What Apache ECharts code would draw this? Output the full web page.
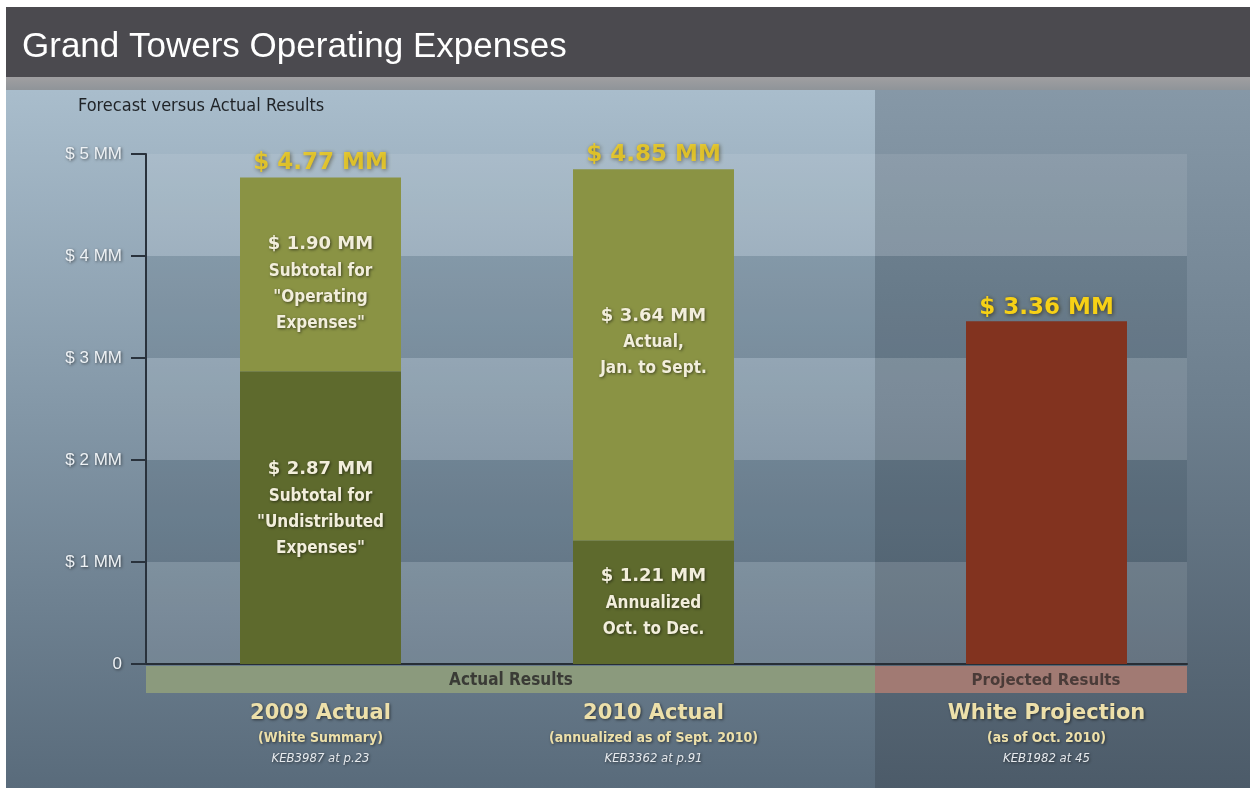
<!DOCTYPE html>
<html lang="en">
<head>
    <meta charset="UTF-8">
    <title>Grand Towers Operating Expenses</title>
    <script src="https://cdn.jsdelivr.net/npm/echarts@6/dist/echarts.min.js"></script>
    <style>
        html, body { margin: 0; padding: 0; background: #fff; }
        #main { width: 1257px; height: 788px; }
    </style>
</head>
<body>
    <div id="main"></div>
    <script>
    // data (millions of dollars)
    var actualCats = ['2009 Actual', '2010 Actual'];
    var actualSubs = ['(White Summary)', '(annualized as of Sept. 2010)'];
    var actualRefs = ['KEB3987 at p.23', 'KEB3362 at p.91'];
    var lowerValues = [2.87, 1.21];
    var upperValues = [1.90, 3.64];
    var lowerNotes = [['Subtotal for', '"Undistributed', 'Expenses"'], ['Annualized', 'Oct. to Dec.']];
    var upperNotes = [['Subtotal for', '"Operating', 'Expenses"'], ['Actual,', 'Jan. to Sept.']];

    var projCats = ['White Projection'];
    var projSubs = ['(as of Oct. 2010)'];
    var projRefs = ['KEB1982 at 45'];
    var projValues = [3.36];

    var yTickLabels = ['0', '$ 1 MM', '$ 2 MM', '$ 3 MM', '$ 4 MM', '$ 5 MM'];
    var groupLabels = ['Actual Results', 'Projected Results'];

    var totals = lowerValues.map(function (v, i) { return +(v + upperValues[i]).toFixed(2); });

    var NARROW = "'Liberation Sans Narrow', 'DejaVu Sans Condensed', 'Liberation Sans', sans-serif";
    var SANS = "'Liberation Sans', Arial, sans-serif";
    var WIDE = "'DejaVu Sans', 'Liberation Sans', sans-serif";

    function money(v) { return '$ ' + v.toFixed(2) + ' MM'; }

    var shadow = { textShadowColor: 'rgba(0,0,0,0.55)', textShadowBlur: 3, textShadowOffsetX: 1, textShadowOffsetY: 1 };
    function withShadow(o) { for (var k in shadow) o[k] = shadow[k]; return o; }

    var inRich = {
        v: withShadow({ color: '#f2eedb', fontFamily: WIDE, fontWeight: 'bold', fontSize: 18, lineHeight: 28 }),
        t: withShadow({ color: '#f2eedb', fontFamily: NARROW, fontWeight: 'bold', fontSize: 17, lineHeight: 26 })
    };
    var catRich = {
        a: withShadow({ color: '#ede0aa', fontFamily: WIDE, fontWeight: 'bold', fontSize: 21, lineHeight: 26 }),
        b: withShadow({ color: '#ede0aa', fontFamily: NARROW, fontWeight: 'bold', fontSize: 14, lineHeight: 22 }),
        c: withShadow({ color: '#e6eaee', fontFamily: NARROW, fontStyle: 'italic', fontSize: 13, lineHeight: 20 })
    };

    function segLabel(notes) {
        return function (p) {
            return ['{v|' + money(p.value) + '}'].concat(notes[p.dataIndex].map(function (s) { return '{t|' + s + '}'; })).join('\n');
        };
    }
    function segData(values, offsets) {
        return values.map(function (v, i) {
            return { value: v, label: { offset: [0, offsets[i]] } };
        });
    }
    function catFormatter(subs, refs) {
        return function (val, idx) {
            return '{a|' + val + '}\n{b|' + subs[idx] + '}\n{c|' + refs[idx] + '}';
        };
    }
    var totalLabel = {
        show: true, position: 'top', distance: 2,
        formatter: function (p) { return money(p.value); },
        color: '#f7d116', fontFamily: WIDE, fontWeight: 'bold', fontSize: 23,
        textShadowColor: 'rgba(40,30,0,0.7)', textShadowBlur: 4, textShadowOffsetX: 1, textShadowOffsetY: 1
    };

    var chart = echarts.init(document.getElementById('main'));
    var option = {
        animation: false,
        title: [
            { text: 'Grand Towers Operating Expenses', left: 17, top: 25,
              textStyle: { color: '#ffffff', fontFamily: SANS, fontWeight: 'normal', fontSize: 35 } },
            { text: 'Forecast versus Actual Results', left: 73, top: 92,
              textStyle: { color: '#1f2327', fontFamily: NARROW, fontWeight: 'normal', fontSize: 18 } }
        ],
        graphic: [
            { type: 'rect', z: -100, shape: { x: 6, y: 90, width: 869, height: 698 },
              style: { fill: new echarts.graphic.LinearGradient(0, 0, 0, 1, [
                  { offset: 0, color: '#a9bdcc' }, { offset: 0.45, color: '#8498a8' }, { offset: 1, color: '#596b7b' }]) } },
            { type: 'rect', z: -100, shape: { x: 875, y: 90, width: 375, height: 698 },
              style: { fill: new echarts.graphic.LinearGradient(0, 0, 0, 1, [
                  { offset: 0, color: '#8698a7' }, { offset: 0.45, color: '#6d7f8e' }, { offset: 1, color: '#4c5b69' }]) } },
            { type: 'rect', z: -100, shape: { x: 6, y: 7, width: 1244, height: 70 }, style: { fill: '#4b4a4f' } },
            { type: 'rect', z: -100, shape: { x: 6, y: 77, width: 1244, height: 13 },
              style: { fill: new echarts.graphic.LinearGradient(0, 0, 0, 1, [
                  { offset: 0, color: '#a09fa1' }, { offset: 1, color: '#8f9499' }]) } },
            { type: 'rect', shape: { x: 146, y: 666, width: 729, height: 27 }, style: { fill: '#8b9a7d' } },
            { type: 'rect', shape: { x: 875, y: 666, width: 312, height: 27 }, style: { fill: '#a17a73' } },
            { type: 'text', x: 511, y: 681, style: { text: groupLabels[0], fill: '#3a3b36', font: 'bold 17px ' + NARROW, align: 'center', verticalAlign: 'middle' } },
            { type: 'text', x: 1046, y: 681, style: { text: groupLabels[1], fill: '#4a3b38', font: 'bold 15px ' + WIDE, align: 'center', verticalAlign: 'middle' } }
        ],
        grid: [
            { left: 146, right: 70, top: 154, bottom: 124 },
            { left: 154, width: 666, top: 154, bottom: 124 },
            { left: 966, width: 161, top: 154, bottom: 124 }
        ],
        xAxis: [
            { gridIndex: 0, type: 'value', min: 0, max: 1, axisLabel: { show: false }, axisTick: { show: false },
              splitLine: { show: false }, axisLine: { show: true, lineStyle: { color: '#272e36', width: 2 } } },
            { gridIndex: 1, type: 'category', data: actualCats, axisLine: { show: false }, axisTick: { show: false },
              axisLabel: { margin: 37, formatter: catFormatter(actualSubs, actualRefs), rich: catRich } },
            { gridIndex: 2, type: 'category', data: projCats, axisLine: { show: false }, axisTick: { show: false },
              axisLabel: { margin: 37, formatter: catFormatter(projSubs, projRefs), rich: catRich } }
        ],
        yAxis: [
            { gridIndex: 0, type: 'value', min: 0, max: 5, interval: 1,
              axisLine: { show: true, lineStyle: { color: '#29323c', width: 2 } },
              axisTick: { show: true, length: 15, lineStyle: { color: '#29323c', width: 2 } },
              axisLabel: withShadow({ margin: 24, color: '#eef2f5', fontFamily: SANS, fontSize: 17,
                  formatter: function (v) { return yTickLabels[Math.round(v)]; } }),
              splitLine: { show: false },
              splitArea: { show: true, areaStyle: { color: ['rgba(255,255,255,0.09)', 'rgba(15,35,55,0.13)'] } } },
            { gridIndex: 1, type: 'value', min: 0, max: 5, show: false },
            { gridIndex: 2, type: 'value', min: 0, max: 5, show: false }
        ],
        series: [
            { name: 'lower', type: 'bar', xAxisIndex: 1, yAxisIndex: 1, stack: 'a', barWidth: 161,
              itemStyle: { color: '#5e6a2d' }, data: segData(lowerValues, [-9, 0]),
              label: { show: true, position: 'inside', formatter: segLabel(lowerNotes), rich: inRich } },
            { name: 'upper', type: 'bar', xAxisIndex: 1, yAxisIndex: 1, stack: 'a', barWidth: 161,
              itemStyle: { color: '#8a9344' }, data: segData(upperValues, [9, -13]),
              label: { show: true, position: 'inside', formatter: segLabel(upperNotes), rich: inRich } },
            { name: 'total', type: 'scatter', xAxisIndex: 1, yAxisIndex: 1, symbolSize: 1,
              itemStyle: { color: 'rgba(0,0,0,0)' }, data: totals, label: totalLabel, z: 5 },
            { name: 'projection', type: 'bar', xAxisIndex: 2, yAxisIndex: 2, barWidth: 161,
              itemStyle: { color: '#82331f' }, data: projValues,
              label: totalLabel }
        ]
    };
    chart.setOption(option);
    </script>
</body>
</html>
